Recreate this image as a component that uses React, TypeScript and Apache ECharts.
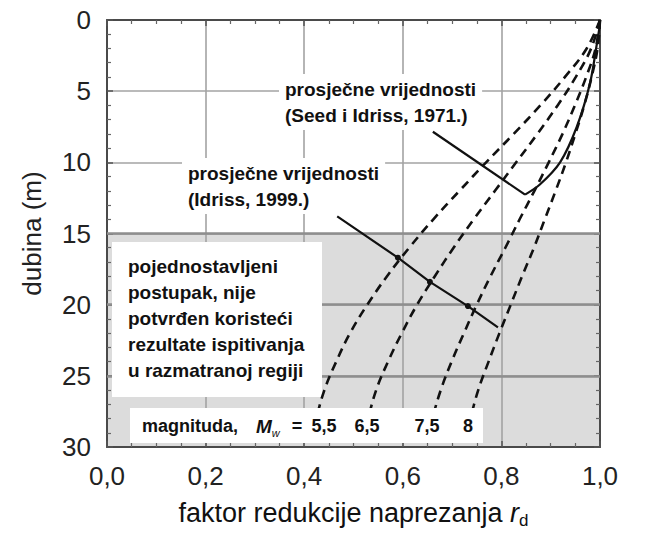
import React, { useEffect, useRef } from "react";
import * as echarts from "echarts";

// depth (m) at which the magnitude curves are read
const depth = [0, 2, 4, 6, 8, 10, 12, 14, 16, 18, 20, 22, 24, 26, 28, 30];
// stress reduction factor r_d for each magnitude
const rdM55 = [1.0, 0.973, 0.929, 0.879, 0.825, 0.769, 0.715, 0.662, 0.613, 0.568, 0.528, 0.493, 0.465, 0.441, 0.425, 0.415];
const rdM65 = [1.0, 0.982, 0.951, 0.914, 0.873, 0.83, 0.787, 0.744, 0.703, 0.665, 0.629, 0.598, 0.57, 0.546, 0.53, 0.518];
const rdM75 = [1.0, 0.991, 0.972, 0.949, 0.924, 0.896, 0.867, 0.837, 0.808, 0.778, 0.75, 0.724, 0.699, 0.677, 0.66, 0.646];
const rdM80 = [1.0, 0.995, 0.983, 0.968, 0.95, 0.931, 0.91, 0.888, 0.866, 0.842, 0.819, 0.796, 0.774, 0.753, 0.737, 0.722];

// Seed & Idriss (1971) average curve
const seedDepth = [0.3, 1.6, 4.4, 7.5, 10.0, 11.56, 12.27];
const seedRd = [1.0, 0.994, 0.98, 0.953, 0.919, 0.878, 0.848];
// leader line from the Seed & Idriss label
const seedLeaderDepth = [7.85, 12.27];
const seedLeaderRd = [0.661, 0.848];

// Idriss (1999) averages line
const idrissDepth = [13.8, 16.7, 18.4, 20.1, 21.6];
const idrissRd = [0.467, 0.59, 0.655, 0.732, 0.793];

// shaded (unverified) depth range
const shadeTop = 15;
const shadeBottom = 30;
const darkGridDepths = [15, 20, 25];

const magnitudeLabels = ["5,5", "6,5", "7,5", "8"];

const xTicks = { min: 0, max: 1, step: 0.2 };
const yTicks = { min: 0, max: 30, step: 5 };

const FONT = '"Liberation Sans", Arial, Helvetica, sans-serif';

export default function App() {
  const ref = useRef<HTMLDivElement>(null);

  useEffect(() => {
    if (!ref.current) return;
    const chart = echarts.init(ref.current, null, { renderer: "svg" });

    const toPts = (rd: number[], z: number[]) => z.map((d, i) => [rd[i], d]);

    const dashed = (name: string, rd: number[]) => ({
      name,
      type: "line",
      data: toPts(rd, depth),
      smooth: 0.4,
      symbol: "none",
      z: 3,
      lineStyle: { color: "#111", width: 2.6, type: [9, 6] },
    });

    const axisLineStyle = { color: "#4a4a4a", width: 2 };
    const magX = [324, 367, 427, 468];
    const magText = (text: string, x: number, align: string) => ({
      type: "text",
      z: 11,
      x,
      y: 426,
      style: {
        text,
        font: `bold 18px ${FONT}`,
        fill: "#111",
        align,
        verticalAlign: "middle",
      },
      silent: true,
    });

    const option: any = {
      animation: false,
      backgroundColor: "#fff",
      textStyle: { fontFamily: FONT },
      grid: { left: 107, right: 63, top: 20, bottom: 86, containLabel: false },
      xAxis: [
        {
          type: "value",
          min: xTicks.min,
          max: xTicks.max,
          interval: xTicks.step,
          position: "bottom",
          axisLine: { show: true, onZero: false, lineStyle: axisLineStyle },
          axisTick: { show: true, inside: true, length: 6, lineStyle: { color: "#555", width: 1.5 } },
          minorTick: { show: true, splitNumber: 4, length: 4, lineStyle: { color: "#666", width: 1.2 } },
          splitLine: { show: true, lineStyle: { color: "#a3a3a3", width: 1.6 } },
          axisLabel: {
            fontSize: 26,
            color: "#222",
            fontFamily: FONT,
            margin: 16,
            formatter: (v: number) => v.toFixed(1).replace(".", ","),
          },
          name: "faktor redukcije naprezanja {i|r}{s|d}",
          nameLocation: "middle",
          nameGap: 50,
          nameTextStyle: {
            fontSize: 27,
            color: "#111",
            fontFamily: FONT,
            lineHeight: 32,
            rich: {
              i: { fontSize: 27, fontStyle: "italic", color: "#111", fontFamily: FONT, lineHeight: 32 },
              s: { fontSize: 17, color: "#111", fontFamily: FONT, lineHeight: 17, verticalAlign: "bottom" },
            },
          },
        },
        {
          type: "value",
          min: xTicks.min,
          max: xTicks.max,
          interval: xTicks.step,
          position: "top",
          axisLine: { show: true, onZero: false, lineStyle: axisLineStyle },
          axisTick: { show: true, inside: true, length: 6, lineStyle: { color: "#555", width: 1.5 } },
          minorTick: { show: true, splitNumber: 4, length: 4, lineStyle: { color: "#666", width: 1.2 } },
          splitLine: { show: false },
          axisLabel: { show: false },
        },
      ],
      yAxis: [
        {
          type: "value",
          inverse: true,
          min: yTicks.min,
          max: yTicks.max,
          interval: yTicks.step,
          position: "left",
          axisLine: { show: true, onZero: false, lineStyle: axisLineStyle },
          axisTick: { show: true, inside: true, length: 6, lineStyle: { color: "#555", width: 1.5 } },
          minorTick: { show: true, splitNumber: 5, length: 4, lineStyle: { color: "#666", width: 1.2 } },
          splitLine: { show: true, lineStyle: { color: "#a3a3a3", width: 1.6 } },
          axisLabel: { fontSize: 26, color: "#222", fontFamily: FONT, margin: 16 },
          name: "dubina (m)",
          nameLocation: "middle",
          nameGap: 62,
          nameTextStyle: { fontSize: 26, color: "#222", fontFamily: FONT },
        },
        {
          type: "value",
          inverse: true,
          min: yTicks.min,
          max: yTicks.max,
          interval: yTicks.step,
          position: "right",
          axisLine: { show: true, onZero: false, lineStyle: axisLineStyle },
          axisTick: { show: true, inside: true, length: 6, lineStyle: { color: "#555", width: 1.5 } },
          minorTick: { show: true, splitNumber: 5, length: 4, lineStyle: { color: "#666", width: 1.2 } },
          splitLine: { show: false },
          axisLabel: { show: false },
        },
      ],
      series: [
        {
          name: "shade",
          type: "line",
          data: [],
          symbol: "none",
          z: -1,
          silent: true,
          markArea: {
            z: -1,
            silent: true,
            itemStyle: { color: "#dcdcdc" },
            data: [[{ xAxis: xTicks.min, yAxis: shadeTop }, { xAxis: xTicks.max, yAxis: shadeBottom }]],
          },
        },
        {
          name: "darkgrid",
          type: "line",
          data: [],
          symbol: "none",
          z: 1,
          silent: true,
          markLine: {
            z: 1,
            silent: true,
            symbol: ["none", "none"],
            label: { show: false },
            lineStyle: { color: "#8e8e8e", width: 2.6, type: "solid" },
            data: darkGridDepths.map((d) => ({ yAxis: d })),
          },
        },
        dashed("M 5,5", rdM55),
        dashed("M 6,5", rdM65),
        dashed("M 7,5", rdM75),
        dashed("M 8", rdM80),
        {
          name: "Seed i Idriss 1971",
          type: "line",
          data: toPts(seedRd, seedDepth),
          smooth: 0.3,
          symbol: "none",
          z: 3,
          lineStyle: { color: "#111", width: 2.2 },
        },
        {
          name: "Seed leader",
          type: "line",
          data: toPts(seedLeaderRd, seedLeaderDepth),
          symbol: "none",
          z: 3,
          lineStyle: { color: "#111", width: 2.2 },
        },
        {
          name: "Idriss 1999",
          type: "line",
          data: toPts(idrissRd, idrissDepth).map((p, i) => ({
            value: p,
            symbolSize: i > 0 && i < idrissDepth.length - 1 ? 6 : 0,
          })),
          symbol: "circle",
          showSymbol: true,
          itemStyle: { color: "#111" },
          z: 3,
          lineStyle: { color: "#111", width: 2.2 },
        },
      ],
      graphic: [
        {
          type: "rect",
          z: 2,
          shape: { x: 112, y: 242, width: 210, height: 155 },
          style: { fill: "#fff" },
          silent: true,
        },
        {
          type: "text",
          z: 2,
          x: 128,
          y: 253,
          style: {
            text: "pojednostavljeni\npostupak, nije\npotvrđen koristeći\nrezultate ispitivanja\nu razmatranoj regiji",
            font: `bold 19px ${FONT}`,
            fill: "#111",
            lineHeight: 26,
            align: "left",
            verticalAlign: "top",
          },
          silent: true,
        },
        {
          type: "text",
          z: 2,
          x: 279,
          y: 74,
          style: {
            text: "prosječne vrijednosti\n(Seed i Idriss, 1971.)",
            font: `bold 19px ${FONT}`,
            fill: "#111",
            lineHeight: 26,
            backgroundColor: "#fff",
            padding: [2, 6, 2, 6],
            align: "left",
            verticalAlign: "top",
          },
          silent: true,
        },
        {
          type: "text",
          z: 2,
          x: 182,
          y: 158,
          style: {
            text: "prosječne vrijednosti\n(Idriss, 1999.)",
            font: `bold 19px ${FONT}`,
            fill: "#111",
            lineHeight: 26,
            backgroundColor: "#fff",
            padding: [2, 6, 2, 6],
            align: "left",
            verticalAlign: "top",
          },
          silent: true,
        },
        {
          type: "rect",
          z: 10,
          shape: { x: 130, y: 408, width: 353, height: 35 },
          style: { fill: "#fff" },
          silent: true,
        },
        magText("magnituda,", 142, "left"),
        {
          type: "text",
          z: 11,
          x: 256,
          y: 426,
          style: {
            text: "{m|M}{w|w}",
            align: "left",
            verticalAlign: "middle",
            rich: {
              m: { font: `italic bold 19px ${FONT}`, fill: "#111", lineHeight: 24 },
              w: { font: `italic 11px ${FONT}`, fill: "#111", lineHeight: 14, verticalAlign: "bottom" },
            },
          },
          silent: true,
        },
        magText("=", 297, "center"),
        ...magnitudeLabels.map((t, i) => magText(t, magX[i], "center")),
      ],
    };

    chart.setOption(option);
    return () => chart.dispose();
  }, []);

  return <div ref={ref} style={{ position: "absolute", left: 0, top: 0, width: 663, height: 534 }} />;
}
